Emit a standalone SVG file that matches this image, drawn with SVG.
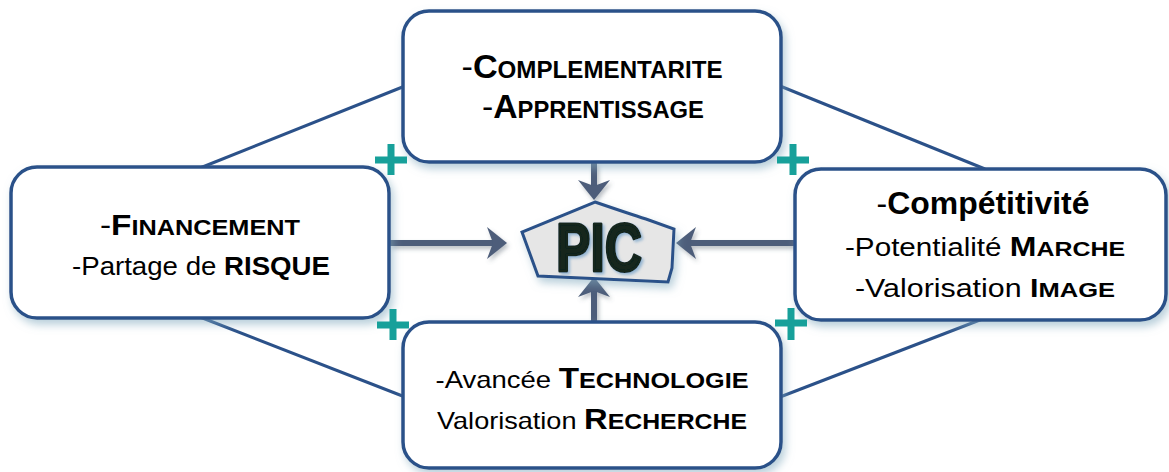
<svg xmlns="http://www.w3.org/2000/svg" width="1169" height="472" viewBox="0 0 1169 472">
<style>
.box{fill:#fff;stroke:#2b5189;stroke-width:3.5;filter:url(#sh)}
.link{stroke:#2b5189;stroke-width:3;fill:none}
.arr{stroke:#4d5d7a;stroke-width:6;fill:none;marker-end:url(#ah)}
.plus{stroke:#17a09a;stroke-width:7;fill:none}
text{font-family:"Liberation Sans",Arial,sans-serif;fill:#000;text-anchor:middle}
.b{font-weight:bold}
</style>
<defs>
<filter id="sh" x="-10%" y="-10%" width="125%" height="130%">
<feDropShadow dx="3" dy="5" stdDeviation="4" flood-color="#7fa8bd" flood-opacity="0.55"/>
</filter>
<filter id="sh2" x="-20%" y="-20%" width="140%" height="140%">
<feDropShadow dx="2" dy="3" stdDeviation="2" flood-color="#556070" flood-opacity="0.4"/>
</filter>
<filter id="sh3" x="-20%" y="-20%" width="140%" height="140%">
<feDropShadow dx="2" dy="2" stdDeviation="1.5" flood-color="#6f9fc8" flood-opacity="0.7"/>
</filter>
<marker id="ah" markerUnits="userSpaceOnUse" viewBox="0 0 20 32" refX="6" refY="16" markerWidth="20" markerHeight="32" orient="auto">
<path d="M0,0 L20,16 L0,32 L6,16 Z" fill="#4d5d7a"/>
</marker>
</defs>
<g id="connectors">
<line class="link" x1="200" y1="168" x2="405" y2="86"/>
<line class="link" x1="780" y1="86" x2="985" y2="169"/>
<line class="link" x1="200" y1="317" x2="405" y2="397"/>
<line class="link" x1="780" y1="397" x2="985" y2="318"/>
<g filter="url(#sh2)">
<line class="arr" x1="594" y1="163" x2="594" y2="186"/>
<line class="arr" x1="390" y1="243" x2="493" y2="243"/>
<line class="arr" x1="794" y1="243" x2="690" y2="243"/>
<line class="arr" x1="594" y1="322" x2="594" y2="291"/>
</g>
</g>
<g id="top">
<rect class="box" x="403" y="11" width="378" height="151" rx="26"/>
<text y="78" x="592" textLength="261" lengthAdjust="spacingAndGlyphs"><tspan font-size="34">-</tspan><tspan class="b" font-size="34">C</tspan><tspan class="b" font-size="24">OMPLEMENTARITE</tspan></text>
<text y="118" x="593" textLength="222" lengthAdjust="spacingAndGlyphs"><tspan font-size="34">-</tspan><tspan class="b" font-size="34">A</tspan><tspan class="b" font-size="24">PPRENTISSAGE</tspan></text>
</g>
<g id="left">
<rect class="box" x="11" y="167" width="378" height="151" rx="26"/>
<text y="235" x="200" textLength="200" lengthAdjust="spacingAndGlyphs"><tspan font-size="29">-</tspan><tspan class="b" font-size="29">F</tspan><tspan class="b" font-size="22">INANCEMENT</tspan></text>
<text y="275" x="201" font-size="25" textLength="258" lengthAdjust="spacingAndGlyphs">-Partage de <tspan class="b">RISQUE</tspan></text>
</g>
<g id="right">
<rect class="box" x="795" y="169" width="371" height="151" rx="26"/>
<text y="214" x="983" textLength="213" lengthAdjust="spacingAndGlyphs"><tspan font-size="31">-</tspan><tspan class="b" font-size="31">Compétitivité</tspan></text>
<text y="256" x="985" textLength="280" lengthAdjust="spacingAndGlyphs"><tspan font-size="25">-Potentialité </tspan><tspan class="b" font-size="27">M</tspan><tspan class="b" font-size="21">ARCHE</tspan></text>
<text y="297" x="985" textLength="260" lengthAdjust="spacingAndGlyphs"><tspan font-size="25">-Valorisation </tspan><tspan class="b" font-size="25">I</tspan><tspan class="b" font-size="21">MAGE</tspan></text>
</g>
<g id="bottom">
<rect class="box" x="403" y="322" width="378" height="146" rx="26"/>
<text y="388" x="592" textLength="313" lengthAdjust="spacingAndGlyphs"><tspan font-size="24">-Avancée </tspan><tspan class="b" font-size="29">T</tspan><tspan class="b" font-size="22">ECHNOLOGIE</tspan></text>
<text y="429" x="592" textLength="310" lengthAdjust="spacingAndGlyphs"><tspan font-size="24">Valorisation </tspan><tspan class="b" font-size="29">R</tspan><tspan class="b" font-size="22">ECHERCHE</tspan></text>
</g>
<g id="pic">
<path d="M595,202 Q630,214 646,219 L674,229 L672,268 L668,282 L538,276 L522,232 Z" fill="#e6e6e6" stroke="#2b5189" stroke-width="3" filter="url(#sh)"/>
<text x="599" y="271" font-size="69" class="b" style="fill:#12251f;stroke:#12251f;stroke-width:3;stroke-linejoin:round" textLength="86" lengthAdjust="spacingAndGlyphs" filter="url(#sh3)">PIC</text>
</g>
<g id="plus-signs">
<path class="plus" d="M375,160 H407 M391,144 V175"/>
<path class="plus" d="M777,160 H809 M793,144 V175"/>
<path class="plus" d="M377,325 H409 M393,309 V340"/>
<path class="plus" d="M775,323 H807 M791,308 V340"/>
</g>
</svg>
